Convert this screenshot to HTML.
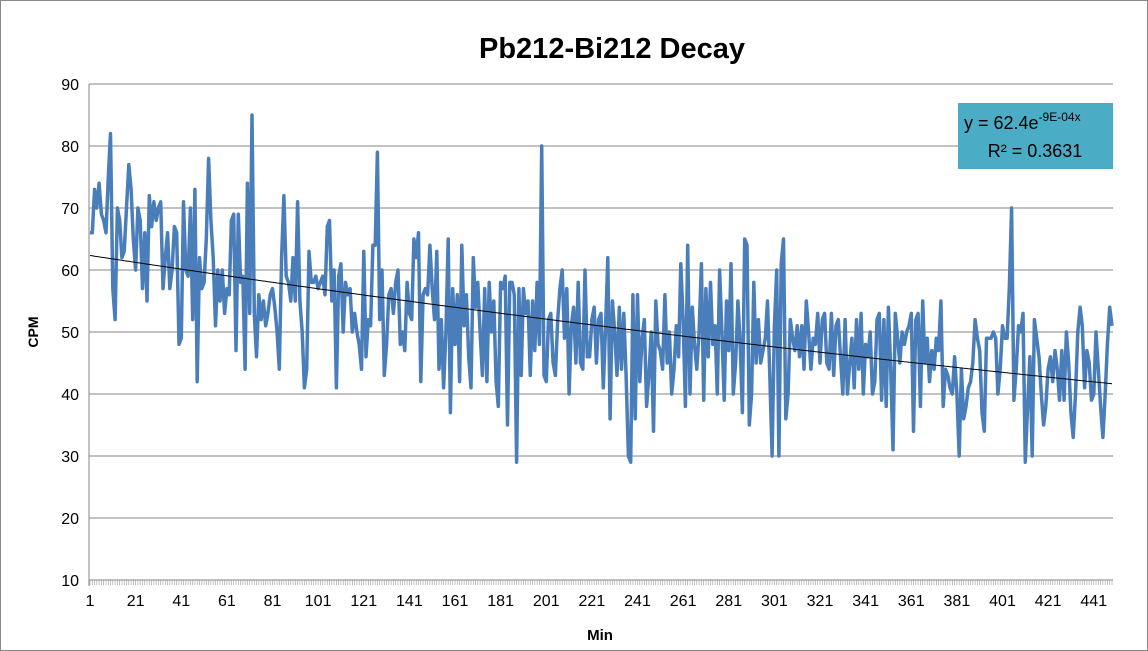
<!DOCTYPE html>
<html><head><meta charset="utf-8"><style>
html,body{margin:0;padding:0;background:#fff}
svg{display:block;font-family:"Liberation Sans",Arial,sans-serif}
</style></head><body>
<svg id="chart" width="1148" height="651">
<rect x="0.5" y="0.5" width="1147" height="650" fill="#fff" stroke="#888"/>
<text x="612" y="58" text-anchor="middle" font-size="29" font-weight="bold">Pb212-Bi212 Decay</text>
<text x="38" y="332" text-anchor="middle" font-size="14" font-weight="bold" transform="rotate(-90 38 332)">CPM</text>
<text x="600" y="640" text-anchor="middle" font-size="15" font-weight="bold">Min</text>
<g id="grid"></g><g id="yt"></g><g id="xt"></g><g id="series"></g>
<g>
<rect x="958" y="103" width="155" height="66" fill="#4bacc6"/>
<text x="964" y="129" font-size="18">y = 62.4e<tspan font-size="12" dy="-8">-9E-04x</tspan></text>
<text x="1035" y="157" text-anchor="middle" font-size="18">R² = 0.3631</text>
</g>
</svg>
<script>
const values=[66,66,73,70,74,69,68,66,75,82,57,52,70,68,62,63,70,77,73,65,
60,70,68,57,66,55,72,67,71,68,70,71,57,62,66,57,60,67,66,48,
49,71,60,59,70,52,73,42,62,57,58,65,78,68,62,51,60,55,60,53,
57,56,68,69,47,69,58,59,44,74,53,85,53,46,56,52,55,51,53,56,
57,54,50,44,62,72,59,58,55,62,55,71,55,50,41,44,63,58,58,59,
57,58,59,56,67,68,55,60,41,59,61,50,58,56,57,50,53,50,48,44,
63,46,52,51,64,64,79,52,60,43,48,56,57,53,58,60,48,50,47,58,
53,52,65,62,66,42,56,57,56,64,57,52,63,44,52,41,50,65,37,57,
48,56,42,64,51,56,46,41,62,54,58,50,43,57,42,58,50,55,42,38,
58,57,59,35,58,58,56,29,57,43,57,53,55,43,55,47,58,48,80,43,
42,52,53,45,43,52,57,60,49,57,40,51,54,45,58,45,44,60,46,46,
52,54,45,52,53,41,51,62,36,55,50,43,54,44,53,43,30,29,56,36,
56,42,49,52,38,43,50,34,55,48,47,44,56,45,50,40,44,51,46,61,
52,38,64,40,54,48,44,50,61,39,57,46,58,48,51,40,60,50,39,55,
47,61,40,45,55,48,37,65,64,35,40,58,45,52,45,47,49,55,43,30,
51,60,30,61,65,36,40,52,49,47,51,46,51,44,55,50,44,49,48,53,
45,52,53,45,44,53,43,51,52,46,40,52,40,45,49,41,52,44,53,40,
48,46,50,40,42,52,53,39,52,38,54,44,31,53,49,45,50,48,50,51,
53,34,52,53,38,55,45,49,42,47,44,49,47,55,38,44,43,41,40,46,
40,30,44,36,38,41,42,45,52,49,47,37,34,49,49,49,50,49,40,44,
51,49,49,57,70,39,44,51,50,53,29,38,46,30,52,49,46,40,35,38,
44,46,42,47,44,39,47,39,50,45,37,33,40,50,54,51,
41,47,45,39,40,50,44,38,33,40,48,54,51];
const yTicks=[10,20,30,40,50,60,70,80,90];
const trendA=62.4, trendK=-0.0009;
const NS="http://www.w3.org/2000/svg";
const L=89,R=1113,T=84,B=580,yMin=10,yMax=90;
const n=values.length;
function xs(i){return L+1+(i)*(R-L-2)/(n-1);}
function ys(v){return B-(v-yMin)/(yMax-yMin)*(B-T);}
function mk(tag,attrs,parent){const e=document.createElementNS(NS,tag);for(const k in attrs)e.setAttribute(k,attrs[k]);parent.appendChild(e);return e;}
const grid=document.getElementById('grid'),yt=document.getElementById('yt'),xt=document.getElementById('xt'),ser=document.getElementById('series');
yTicks.forEach(t=>{
  const g=mk('line',{x1:L,x2:R,y1:ys(t),y2:ys(t),stroke:'#868686','stroke-width':1},grid);
  
  
  const tx=mk('text',{x:L-10,y:ys(t)+6,'text-anchor':'end','font-size':16},yt);
  tx.textContent=t;
  
  
});
const ax=mk('line',{x1:L,x2:L,y1:T,y2:B+6,stroke:'#868686'},grid);


for(let i=0;i<n;i++){
  const tk=mk('line',{x1:xs(i),x2:xs(i),y1:B,y2:B+5,stroke:'#999','stroke-width':0.6},xt);
  
  
  if(i%20===0){
    const tx=mk('text',{x:xs(i),y:B+26,'text-anchor':'middle','font-size':16},xt);
    tx.textContent=i+1;
    
    
  }
}
let d='';values.forEach((v,i)=>{d+=(i?'L':'M')+xs(i).toFixed(1)+' '+ys(v).toFixed(1);});
const line=mk('path',{d:d,fill:'none',stroke:'#4a7ebb','stroke-width':3.5,'stroke-linejoin':'round'},ser);


let td='';for(let i=0;i<n;i++){td+=(i?'L':'M')+xs(i).toFixed(1)+' '+ys(trendA*Math.exp(trendK*(i+1))).toFixed(1);}
const tr=mk('path',{d:td,fill:'none',stroke:'#000','stroke-width':1},ser);


</script>
</body></html>
